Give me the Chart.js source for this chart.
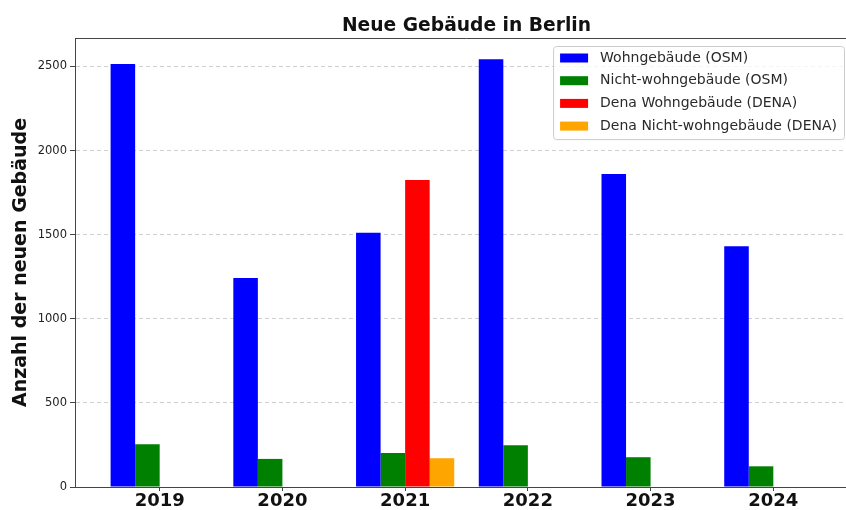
<!DOCTYPE html>
<html>
<head>
<meta charset="utf-8">
<script src="https://cdn.jsdelivr.net/npm/chart.js@4.4.1/dist/chart.umd.min.js"></script>
<style>
html, body { margin: 0; padding: 0; background: #fff; overflow: hidden; }
#wrap { width: 846px; height: 510px; overflow: hidden; }
</style>
</head>
<body>
<div id="wrap"><canvas id="chart" width="860" height="510"></canvas></div>
<script>
// Neue Gebäude in Berlin - grouped bars per year

const chartTitle = 'Neue Gebäude in Berlin';
const yTitle = 'Anzahl der neuen Gebäude';
const years = ['2019', '2020', '2021', '2022', '2023', '2024'];
const wohnOSM = [2515, 1242, 1512, 2542, 1860, 1431];
const nichtWohnOSM = [254, 167, 202, 248, 177, 123];
const denaWohn = [null, null, 1825, null, null, null];
const denaNichtWohn = [null, null, 171, null, null, null];
const yTicks = [0, 500, 1000, 1500, 2000, 2500];

const FONT = '"DejaVu Sans", "Liberation Sans", sans-serif';
const AXIS_COLOR = '#444';

// bars sit on a linear x axis so the margins can match the original
function toPoints(values) {
    return values
        .map((v, i) => ({ x: i, y: v }))
        .filter(p => p.y !== null);
}

// title centred over the plot area
const titlePlugin = {
    id: 'plotTitle',
    afterDraw(chart) {
        const ctx = chart.ctx;
        const area = chart.chartArea;
        ctx.save();
        ctx.font = 'bold 18.7px ' + FONT;
        ctx.fillStyle = '#111';
        ctx.textAlign = 'center';
        ctx.textBaseline = 'alphabetic';
        ctx.fillText(chartTitle, (area.left + area.right) / 2, 31);
        ctx.restore();
    }
};

// top spine of the axes frame
const framePlugin = {
    id: 'frameTop',
    afterDraw(chart) {
        const ctx = chart.ctx;
        const area = chart.chartArea;
        ctx.save();
        ctx.strokeStyle = AXIS_COLOR;
        ctx.lineWidth = 1;
        ctx.beginPath();
        ctx.moveTo(area.left, area.top + 0.5);
        ctx.lineTo(area.right, area.top + 0.5);
        ctx.stroke();
        ctx.restore();
    }
};

// matplotlib-like legend box in the upper right corner
const legendPlugin = {
    id: 'legendBox',
    afterDraw(chart) {
        const ctx = chart.ctx;
        const area = chart.chartArea;
        const sets = chart.data.datasets;
        ctx.save();
        ctx.font = '14px ' + FONT;
        const textW = Math.max(...sets.map(d => ctx.measureText(d.label).width));
        const pad = 7, sw = 28, sh = 9, gap = 12, rowH = 22.7;
        const w = pad + sw + gap + textW + pad;
        const h = 12 + rowH * (sets.length - 1) + 13;
        const x = area.right - 14 - w;
        const y = area.top + 8;

        ctx.beginPath();
        ctx.roundRect(x + 0.5, y + 0.5, w, h, 3);
        ctx.fillStyle = 'rgba(255,255,255,0.8)';
        ctx.fill();
        ctx.strokeStyle = '#cccccc';
        ctx.lineWidth = 1;
        ctx.stroke();

        ctx.textAlign = 'left';
        ctx.textBaseline = 'middle';
        sets.forEach((d, i) => {
            const cy = y + 12 + i * rowH;
            ctx.fillStyle = d.backgroundColor;
            ctx.fillRect(x + pad, cy - sh / 2, sw, sh);
            ctx.fillStyle = '#2a2a2a';
            ctx.fillText(d.label, x + pad + sw + gap, cy);
        });
        ctx.restore();
    }
};

const ctx = document.getElementById('chart');

new Chart(ctx, {
    type: 'bar',
    data: {
        datasets: [
            { label: 'Wohngebäude (OSM)', data: toPoints(wohnOSM), backgroundColor: '#0000ff' },
            { label: 'Nicht-wohngebäude (OSM)', data: toPoints(nichtWohnOSM), backgroundColor: '#008000' },
            { label: 'Dena Wohngebäude (DENA)', data: toPoints(denaWohn), backgroundColor: '#ff0000' },
            { label: 'Dena Nicht-wohngebäude (DENA)', data: toPoints(denaNichtWohn), backgroundColor: '#ffa500' }
        ]
    },
    options: {
        responsive: false,
        animation: false,
        layout: {
            padding: { left: 0, top: 38, right: 2, bottom: 0 }
        },
        datasets: {
            bar: {
                categoryPercentage: 0.8,
                barPercentage: 1.0,
                borderWidth: 0
            }
        },
        plugins: {
            legend: { display: false },
            title: { display: false },
            tooltip: { enabled: false }
        },
        scales: {
            x: {
                type: 'linear',
                offset: false,
                min: -0.69,
                max: 5.69,
                afterBuildTicks: scale => {
                    scale.ticks = years.map((y, i) => ({ value: i }));
                },
                afterFit: scale => {
                    scale.height = 23;
                },
                ticks: {
                    padding: 0,
                    color: '#111',
                    font: { family: FONT, size: 18, weight: 'bold' },
                    callback: value => years[value]
                },
                grid: {
                    offset: false,
                    drawOnChartArea: false,
                    tickLength: 4,
                    tickColor: AXIS_COLOR
                },
                border: { color: AXIS_COLOR, width: 1 }
            },
            y: {
                min: 0,
                max: 2669,
                afterBuildTicks: scale => {
                    scale.ticks = yTicks.map(v => ({ value: v }));
                },
                afterFit: scale => {
                    scale.width = 75;
                },
                ticks: {
                    padding: 3,
                    color: '#222',
                    font: { family: FONT, size: 11.5 },
                    callback: value => String(value)
                },
                grid: {
                    color: 'rgba(170,170,170,0.55)',
                    tickLength: 5,
                    tickColor: AXIS_COLOR,
                    tickBorderDash: []
                },
                border: { color: AXIS_COLOR, width: 1, dash: [4, 3] },
                title: {
                    display: true,
                    text: yTitle,
                    color: '#111',
                    padding: { top: 9.6, bottom: 0 },
                    font: { family: FONT, size: 19, weight: 'bold' }
                }
            }
        }
    },
    plugins: [titlePlugin, framePlugin, legendPlugin]
});
</script>
</body>
</html>
